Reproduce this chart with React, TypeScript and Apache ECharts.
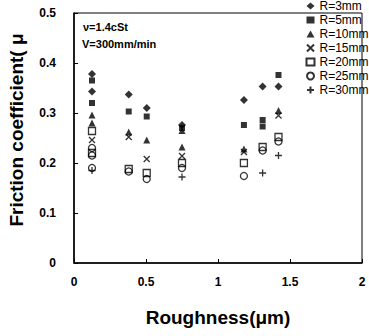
import React, { useEffect, useRef } from "react";
import * as echarts from "echarts";

const FONT = "Liberation Sans, Arial, sans-serif";

const seriesNames = ["R=3mm", "R=5mm", "R=10mm", "R=15mm", "R=20mm", "R=25mm", "R=30mm"];

// [roughness (µm), friction coefficient]
const r3mm = [[0.125, 0.378], [0.125, 0.343], [0.38, 0.337], [0.505, 0.31], [0.75, 0.276], [1.18, 0.326], [1.31, 0.353], [1.42, 0.353]];
const r5mm = [[0.125, 0.365], [0.125, 0.32], [0.38, 0.303], [0.505, 0.293], [0.75, 0.27], [1.18, 0.276], [1.31, 0.286], [1.31, 0.273], [1.42, 0.376]];
const r10mm = [[0.125, 0.296], [0.125, 0.28], [0.38, 0.262], [0.505, 0.246], [0.75, 0.265], [0.75, 0.232], [1.18, 0.228], [1.42, 0.305]];
const r15mm = [[0.125, 0.246], [0.38, 0.252], [0.505, 0.208], [0.75, 0.214], [1.18, 0.222], [1.42, 0.295]];
const r20mm = [[0.125, 0.264], [0.125, 0.22], [0.38, 0.188], [0.505, 0.18], [0.75, 0.2], [1.18, 0.2], [1.31, 0.232], [1.42, 0.252]];
const r25mm = [[0.125, 0.23], [0.125, 0.215], [0.125, 0.19], [0.38, 0.183], [0.505, 0.168], [0.75, 0.19], [1.18, 0.174], [1.31, 0.225], [1.42, 0.243]];
const r30mm = [[0.125, 0.185], [0.75, 0.172], [1.31, 0.18], [1.42, 0.215]];

const seriesData = [r3mm, r5mm, r10mm, r15mm, r20mm, r25mm, r30mm];

const annotation1 = "ν=1.4cSt";
const annotation2 = "V=300mm/min";
const xName = "Roughness(μm)";
const yName = "Friction coefficient( μ";

const symbols = [
  { symbol: "diamond", size: 8, fill: "#000" },
  { symbol: "rect", size: 6, fill: "#000" },
  { symbol: "triangle", size: 7, fill: "#000" },
  { symbol: "path://M0,0L10,10M10,0L0,10", size: 6, fill: "none" },
  { symbol: "rect", size: 7, fill: "none" },
  { symbol: "circle", size: 7, fill: "none" },
  { symbol: "path://M5,0L5,10M0,5L10,5", size: 7, fill: "none" },
];

export default function App() {
  const ref = useRef<HTMLDivElement>(null);
  useEffect(() => {
    if (!ref.current) return;
    const chart = echarts.init(ref.current, null, { renderer: "svg" });
    const axisLabel = { color: "#000", fontWeight: "bold", fontSize: 12, fontFamily: FONT };
    chart.setOption({
      animation: false,
      backgroundColor: "#fff",
      grid: { left: 74, top: 13, right: 7, bottom: 73, show: true, borderColor: "#000", borderWidth: 1 },
      legend: {
        orient: "vertical",
        left: 304,
        top: 0,
        padding: 0,
        itemWidth: 8,
        itemHeight: 7,
        itemGap: 2,
        textStyle: { color: "#000", fontSize: 12, fontFamily: FONT, lineHeight: 12 },
        data: seriesNames,
      },
      xAxis: {
        type: "value",
        min: 0,
        max: 2,
        interval: 0.5,
        name: xName,
        nameLocation: "middle",
        nameGap: 45,
        nameTextStyle: { color: "#000", fontWeight: "bold", fontSize: 19, fontFamily: FONT },
        axisLine: { lineStyle: { color: "#000", width: 1.5 } },
        axisTick: { inside: true, length: 4, lineStyle: { color: "#000" } },
        splitLine: { show: false },
        axisLabel: { ...axisLabel, margin: 13 },
      },
      yAxis: {
        type: "value",
        min: 0,
        max: 0.5,
        interval: 0.1,
        axisLine: { show: true, lineStyle: { color: "#000", width: 1.5 } },
        axisTick: { show: true, inside: true, length: 4, lineStyle: { color: "#000" } },
        splitLine: { show: false },
        axisLabel: { ...axisLabel, margin: 18 },
      },
      graphic: [
        {
          type: "text",
          x: 16,
          y: 130,
          rotation: Math.PI / 2,
          style: { text: yName, fill: "#000", font: `bold 19px ${FONT}`, align: "center", verticalAlign: "middle" },
        },
        {
          type: "text",
          x: 83,
          y: 27,
          style: { text: annotation1, fill: "#000", font: `bold 11px ${FONT}`, align: "left", verticalAlign: "middle" },
        },
        {
          type: "text",
          x: 82,
          y: 44,
          style: { text: annotation2, fill: "#000", font: `bold 11px ${FONT}`, align: "left", verticalAlign: "middle" },
        },
      ],
      series: seriesNames.map((name, i) => ({
        name,
        type: "scatter",
        data: seriesData[i],
        symbol: symbols[i].symbol,
        symbolSize: symbols[i].size,
        itemStyle: {
          color: symbols[i].fill,
          borderColor: "#000",
          borderWidth: symbols[i].fill === "none" ? 1.3 : 0,
        },
      })),
    });
    return () => chart.dispose();
  }, []);
  return <div ref={ref} style={{ position: "fixed", left: 0, top: 0, width: 369, height: 336 }} />;
}
